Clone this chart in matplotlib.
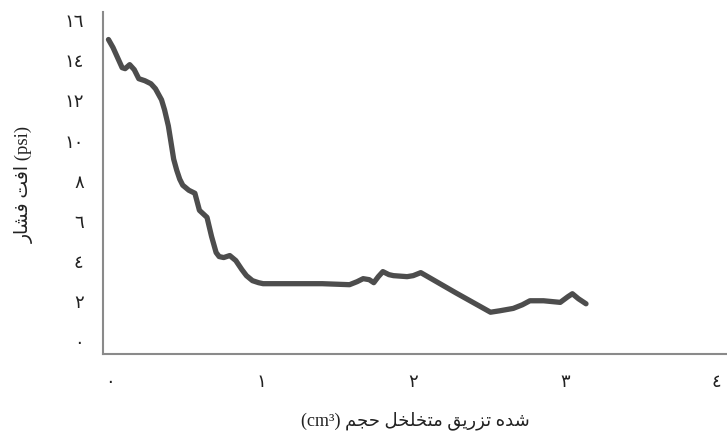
import matplotlib
matplotlib.use('Agg')
import matplotlib.pyplot as plt

plt.rcParams['font.family'] = ['Liberation Serif', 'DejaVu Sans']

# curve (injected pore volume, pressure drop)
pore_volume = [-0.01, 0.02, 0.05, 0.08, 0.10, 0.13, 0.16, 0.19, 0.23, 0.27,
               0.30, 0.34, 0.36, 0.385, 0.40, 0.42, 0.44, 0.46, 0.48, 0.52,
               0.56, 0.59, 0.64, 0.67, 0.70, 0.72, 0.75, 0.79, 0.83, 0.87,
               0.90, 0.94, 0.98, 1.01, 1.20, 1.40, 1.58, 1.63, 1.67, 1.71,
               1.74, 1.77, 1.80, 1.84, 1.87, 1.96, 2.00, 2.05, 2.28, 2.51,
               2.57, 2.66, 2.72, 2.77, 2.86, 2.97, 3.02, 3.05, 3.09, 3.14]
pressure_drop = [15.0, 14.6, 14.1, 13.6, 13.55, 13.75, 13.5, 13.05, 12.95, 12.8,
                 12.55, 12.0, 11.5, 10.7, 10.0, 9.05, 8.5, 8.05, 7.75, 7.5,
                 7.35, 6.5, 6.15, 5.2, 4.4, 4.2, 4.15, 4.25, 4.0, 3.55,
                 3.25, 3.0, 2.9, 2.85, 2.85, 2.85, 2.8, 2.95, 3.1, 3.05,
                 2.9, 3.2, 3.45, 3.3, 3.25, 3.2, 3.25, 3.4, 2.4, 1.43,
                 1.5, 1.62, 1.8, 2.0, 2.0, 1.92, 2.2, 2.35, 2.1, 1.85]

x_ticks = [0, 1, 2, 3, 4]
y_ticks = [0, 2, 4, 6, 8, 10, 12, 14, 16]

# Arabic text pre-shaped with presentation forms, in visual (left-to-right) order
x_label = '(cm\u00b3) ' + '\uFEE2\uFEA0\uFEA3 \uFEDE\uFEA8\uFEE0\uFEA8\uFE98\uFEE3 ' \
          '\uFED6\uFEF3\uFEAD\uFEB0\uFE97 \uFEE9\uFEAA\uFEB7'
y_label = '\uFEAD\uFE8E\uFEB8\uFED3 \uFE96\uFED3\uFE8D (psi)'


def arabic_digits(n):
    return ''.join(chr(0x0660 + int(d)) for d in str(n))


fig = plt.figure(figsize=(7.27, 4.39), dpi=100)
ax = fig.add_axes([0.1417, 0.1913, 0.8583, 0.7791])

ax.plot(pore_volume, pressure_drop, color='#4d4d4d', lw=3.8,
        solid_capstyle='round', solid_joinstyle='round')

ax.set_xlim(-0.046, 4.07)
ax.set_ylim(-0.65, 16.37)
ax.set_xticks(x_ticks)
ax.set_xticklabels([arabic_digits(v) for v in x_ticks])
ax.set_yticks(y_ticks)
ax.set_yticklabels([arabic_digits(v) for v in y_ticks])
ax.tick_params(length=0, labelsize=13, colors='#222222')
ax.tick_params(axis='x', pad=14)
ax.tick_params(axis='y', pad=14)

for side in ['top', 'right']:
    ax.spines[side].set_visible(False)
for side in ['left', 'bottom']:
    ax.spines[side].set_color('#8a8a8a')
    ax.spines[side].set_linewidth(1.5)

ax.set_xlabel(x_label, fontsize=13, color='#222222', labelpad=14)
ax.set_ylabel(y_label, fontsize=13.5, color='#222222', labelpad=22)

fig.savefig('out.png', dpi=100)
